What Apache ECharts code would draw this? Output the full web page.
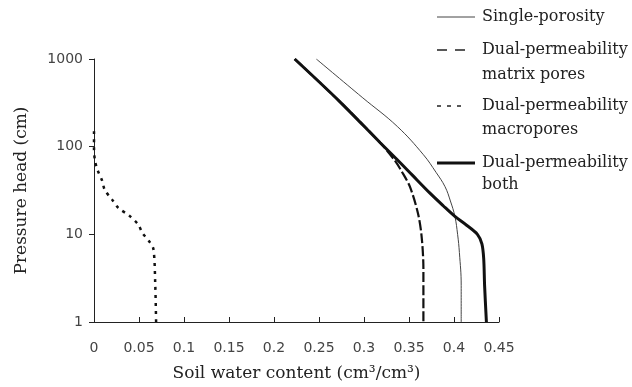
<!DOCTYPE html>
<html>
<head>
<meta charset="utf-8">
<script src="https://cdn.jsdelivr.net/npm/echarts@6/dist/echarts.min.js"></script>
<style>html,body{margin:0;padding:0;background:#fff;}#c{width:632px;height:387px;}</style>
</head>
<body>
<div id="c"></div>
<script>
// Soil water content (cm3/cm3) and pressure head (cm)
const singleTheta = [0.247, 0.298, 0.337, 0.366, 0.380, 0.390, 0.396, 0.401, 0.404, 0.406, 0.408, 0.408];
const singleHead  = [1000, 365, 170, 81, 51, 35, 24, 16, 10, 6.2, 2.6, 1];

const matrixTheta = [0.223, 0.273, 0.318, 0.334, 0.342, 0.351, 0.360, 0.364, 0.366, 0.366];
const matrixHead  = [1000, 327, 111, 70, 52, 35, 17.3, 9.5, 4.1, 1];

const macroTheta = [0.000, 0.000, 0.001, 0.004, 0.009, 0.012, 0.020, 0.027, 0.039, 0.049, 0.054, 0.061, 0.066, 0.068, 0.069];
const macroHead  = [150, 97, 70, 54, 41, 32, 25, 20, 16.4, 13, 10.3, 8.4, 6.8, 2.8, 1];

const bothTheta = [0.223, 0.273, 0.318, 0.337, 0.354, 0.373, 0.388, 0.401, 0.414, 0.426, 0.431, 0.433, 0.434, 0.436];
const bothHead  = [1000, 327, 111, 71, 47, 29.7, 21.2, 16, 12.7, 10, 7.8, 5.3, 2.6, 1];

const xTicks = {min: 0, max: 0.45, step: 0.05};
const yTicks = {min: 1, max: 1000};

const seriesNames = ['Single-porosity', 'Dual-permeability matrix pores', 'Dual-permeability macropores', 'Dual-permeability both'];

function pairs(xs, ys) { return xs.map((x, i) => [x, ys[i]]); }

const chart = echarts.init(document.getElementById('c'), null, {renderer: 'canvas'});

const serif = 'DejaVu Serif';
const legendX = 437, textX = 482;

function legText(x, y, t) {
  return {type: 'text', left: x, top: y - 8, style: {text: t, font: '16px "DejaVu Serif"', fill: '#222'}};
}
function legLine(y, w, lw, dash, color) {
  return {type: 'line', shape: {x1: legendX, y1: y, x2: legendX + w, y2: y},
    style: {stroke: color, lineWidth: lw, lineDash: dash}};
}

chart.setOption({
  animation: false,
  backgroundColor: '#fff',
  grid: {left: 94, right: 133, top: 59, bottom: 60, containLabel: false},
  xAxis: {
    type: 'value', min: xTicks.min, max: xTicks.max, interval: xTicks.step,
    name: 'Soil water content (cm³/cm³)', nameLocation: 'middle', nameGap: 43,
    nameTextStyle: {fontFamily: serif, fontSize: 17, color: '#222'},
    axisLine: {lineStyle: {color: '#222', width: 1}},
    axisTick: {inside: true, length: 5, lineStyle: {color: '#222'}},
    axisLabel: {fontFamily: 'DejaVu Sans', fontSize: 14, color: '#444', margin: 19,
      formatter: v => String(+v.toFixed(2))},
    splitLine: {show: false}
  },
  yAxis: {
    type: 'log', logBase: 10, min: yTicks.min, max: yTicks.max,
    name: 'Pressure head (cm)', nameLocation: 'middle', nameGap: 64, nameRotate: 90,
    nameTextStyle: {fontFamily: serif, fontSize: 17, color: '#222'},
    axisLine: {show: true, lineStyle: {color: '#222', width: 1}},
    axisTick: {show: true, inside: false, length: 5, lineStyle: {color: '#222'}},
    axisLabel: {fontFamily: 'DejaVu Sans', fontSize: 14, color: '#444', margin: 11,
      formatter: v => String(Math.round(v))},
    splitLine: {show: false}, minorTick: {show: false}
  },
  series: [
    {name: seriesNames[0], type: 'line', data: pairs(singleTheta, singleHead), showSymbol: false, smooth: 0.4,
      lineStyle: {color: '#444', width: 1}},
    {name: seriesNames[1], type: 'line', data: pairs(matrixTheta, matrixHead), showSymbol: false, smooth: 0.3,
      lineStyle: {color: '#111', width: 2.2, type: [10, 3]}},
    {name: seriesNames[2], type: 'line', data: pairs(macroTheta, macroHead), showSymbol: false, smooth: 0.3,
      lineStyle: {color: '#111', width: 2.5, type: [3, 5]}},
    {name: seriesNames[3], type: 'line', data: pairs(bothTheta, bothHead), showSymbol: false, smooth: 0.3,
      lineStyle: {color: '#111', width: 3}}
  ],
  graphic: [
    legLine(17, 38, 1, null, '#444'),
    legText(textX, 17, 'Single-porosity'),
    legLine(50, 28, 1.5, [10, 8], '#222'),
    legText(textX, 50, 'Dual-permeability'),
    legText(textX, 75, 'matrix pores'),
    legLine(106, 28, 1.5, [4, 6], '#222'),
    legText(textX, 106, 'Dual-permeability'),
    legText(textX, 130, 'macropores'),
    legLine(163, 38, 3, null, '#111'),
    legText(textX, 163, 'Dual-permeability'),
    legText(textX, 185, 'both')
  ]
});
</script>
</body>
</html>
